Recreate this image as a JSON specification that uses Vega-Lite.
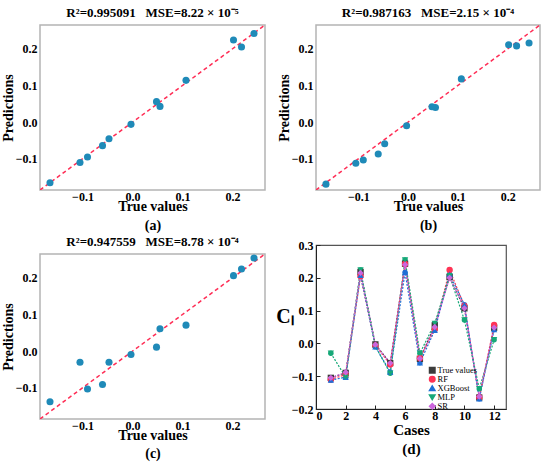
{
  "$schema": "https://vega.github.io/schema/vega-lite/v6.json",
  "padding": {"left": 0, "right": 2, "top": 6, "bottom": 2},
  "background": "white",
  "config": {
    "font": "Liberation Serif",
    "title": {"font": "Liberation Serif", "fontSize": 13, "fontWeight": "bold", "color": "black", "offset": 5},
    "axis": {
      "labelFont": "Liberation Serif", "labelFontSize": 12, "labelFontWeight": "bold", "labelColor": "black",
      "titleFont": "Liberation Serif", "titleFontSize": 14, "titleFontWeight": "bold", "titleColor": "black",
      "grid": false
    },
    "legend": {"labelFont": "Liberation Serif"}
  },
  "datasets": {
    "cases": [
      {"case": 1, "True values": -0.105, "RF": -0.110, "XGBoost": -0.112, "MLP": -0.030, "SR": -0.105},
      {"case": 2, "True values": -0.090, "RF": -0.095, "XGBoost": -0.103, "MLP": -0.103, "SR": -0.088},
      {"case": 3, "True values": 0.218, "RF": 0.205, "XGBoost": 0.208, "MLP": 0.224, "SR": 0.215},
      {"case": 4, "True values": -0.003, "RF": -0.006, "XGBoost": -0.010, "MLP": -0.009, "SR": -0.004},
      {"case": 5, "True values": -0.060, "RF": -0.064, "XGBoost": -0.087, "MLP": -0.091, "SR": -0.060},
      {"case": 6, "True values": 0.243, "RF": 0.242, "XGBoost": 0.216, "MLP": 0.254, "SR": 0.240},
      {"case": 7, "True values": -0.047, "RF": -0.045, "XGBoost": -0.059, "MLP": -0.030, "SR": -0.046},
      {"case": 8, "True values": 0.055, "RF": 0.043, "XGBoost": 0.040, "MLP": 0.061, "SR": 0.050},
      {"case": 9, "True values": 0.202, "RF": 0.224, "XGBoost": 0.211, "MLP": 0.206, "SR": 0.200},
      {"case": 10, "True values": 0.107, "RF": 0.114, "XGBoost": 0.118, "MLP": 0.071, "SR": 0.107},
      {"case": 11, "True values": -0.165, "RF": -0.165, "XGBoost": -0.169, "MLP": -0.138, "SR": -0.162},
      {"case": 12, "True values": 0.048, "RF": 0.056, "XGBoost": 0.042, "MLP": 0.011, "SR": 0.048}
    ],
    "diag": [{"v": -0.185}, {"v": 0.265}]
  },
  "hconcat": [
    {
      "vconcat": [
        {
          "width": 225, "height": 165,
          "title": "R²=0.995091\u00a0\u00a0\u00a0MSE=8.22 × 10⁻⁵",
          "view": {"stroke": "#b4b4b4", "strokeWidth": 1.5},
          "layer": [
            {
              "data": {"name": "diag"},
              "mark": {"type": "line", "color": "#ff2d55", "strokeDash": [4, 3], "strokeWidth": 1.5, "clip": true},
              "encoding": {
                "x": {"field": "v", "type": "quantitative", "scale": {"domain": [-0.185, 0.265], "nice": false},
                  "axis": {"title": ["True values", "(a)"], "titleLineHeight": 19, "titlePadding": -3, "labelPadding": 1, "domain": false, "ticks": false, "values": [-0.1, 0, 0.1, 0.2], "format": ".1f"}},
                "y": {"field": "v", "type": "quantitative", "scale": {"domain": [-0.185, 0.265], "nice": false},
                  "axis": {"title": "Predictions", "titlePadding": 0, "labelPadding": 3, "domain": false, "ticks": false, "values": [-0.1, 0, 0.1, 0.2], "format": ".1f"}}
              }
            },
            {
              "data": {"name": "cases"},
              "mark": {"type": "circle", "size": 50, "color": "#1f8ab8", "opacity": 1},
              "encoding": {
                "x": {"field": "True values", "type": "quantitative"},
                "y": {"field": "RF", "type": "quantitative"}
              }
            }
          ]
        },
        {
          "width": 225, "height": 165,
          "title": "R²=0.947559\u00a0\u00a0\u00a0MSE=8.78 × 10⁻⁴",
          "view": {"stroke": "#b4b4b4", "strokeWidth": 1.5},
          "layer": [
            {
              "data": {"name": "diag"},
              "mark": {"type": "line", "color": "#ff2d55", "strokeDash": [4, 3], "strokeWidth": 1.5, "clip": true},
              "encoding": {
                "x": {"field": "v", "type": "quantitative", "scale": {"domain": [-0.185, 0.265], "nice": false},
                  "axis": {"title": ["True values", "(c)"], "titleLineHeight": 18, "titlePadding": -3, "labelPadding": 1, "domain": false, "ticks": false, "values": [-0.1, 0, 0.1, 0.2], "format": ".1f"}},
                "y": {"field": "v", "type": "quantitative", "scale": {"domain": [-0.185, 0.265], "nice": false},
                  "axis": {"title": "Predictions", "titlePadding": 0, "labelPadding": 3, "domain": false, "ticks": false, "values": [-0.1, 0, 0.1, 0.2], "format": ".1f"}}
              }
            },
            {
              "data": {"name": "cases"},
              "mark": {"type": "circle", "size": 50, "color": "#1f8ab8", "opacity": 1},
              "encoding": {
                "x": {"field": "True values", "type": "quantitative"},
                "y": {"field": "MLP", "type": "quantitative"}
              }
            }
          ]
        }
      ],
      "bounds": "flush",
      "spacing": 64
    },
    {
      "vconcat": [
        {
          "width": 224, "height": 165,
          "title": "R²=0.987163\u00a0\u00a0\u00a0MSE=2.15 × 10⁻⁴",
          "view": {"stroke": "#b4b4b4", "strokeWidth": 1.5},
          "layer": [
            {
              "data": {"name": "diag"},
              "mark": {"type": "line", "color": "#ff2d55", "strokeDash": [4, 3], "strokeWidth": 1.5, "clip": true},
              "encoding": {
                "x": {"field": "v", "type": "quantitative", "scale": {"domain": [-0.185, 0.265], "nice": false},
                  "axis": {"title": ["True values", "(b)"], "titleLineHeight": 19, "titlePadding": -3, "labelPadding": 1, "domain": false, "ticks": false, "values": [-0.1, 0, 0.1, 0.2], "format": ".1f"}},
                "y": {"field": "v", "type": "quantitative", "scale": {"domain": [-0.185, 0.265], "nice": false},
                  "axis": {"title": "Predictions", "titlePadding": 0, "labelPadding": 3, "domain": false, "ticks": false, "values": [-0.1, 0, 0.1, 0.2], "format": ".1f"}}
              }
            },
            {
              "data": {"name": "cases"},
              "mark": {"type": "circle", "size": 50, "color": "#1f8ab8", "opacity": 1},
              "encoding": {
                "x": {"field": "True values", "type": "quantitative"},
                "y": {"field": "XGBoost", "type": "quantitative"}
              }
            }
          ]
        },
        {
          "width": 190, "height": 164,
          "data": {"name": "cases"},
          "transform": [
            {"fold": ["True values", "RF", "XGBoost", "MLP", "SR"], "as": ["model", "value"]}
          ],
          "view": {"stroke": "#555555", "strokeWidth": 1.2},
          "encoding": {
            "x": {"field": "case", "type": "quantitative", "scale": {"domain": [0, 12.8], "nice": false},
              "axis": {"title": ["Cases", "(d)"], "titleFontSize": 15, "titleLineHeight": 19, "titlePadding": 1, "labelPadding": 5, "values": [0, 2, 4, 6, 8, 10, 12], "domainColor": "#222", "tickColor": "#222", "tickSize": -4}},
            "y": {"field": "value", "type": "quantitative", "scale": {"domain": [-0.2, 0.3], "nice": false},
              "axis": {"title": "Cₗ", "titleFontSize": 20, "titleAngle": 0, "titleAlign": "right", "titleBaseline": "middle", "titlePadding": -2, "titleY": 71, "labelPadding": 7, "values": [-0.2, -0.1, 0, 0.1, 0.2, 0.3], "format": ".1f", "domainColor": "#222", "tickColor": "#222", "tickSize": -4}},
            "color": {"field": "model", "type": "nominal",
              "scale": {"domain": ["True values", "RF", "XGBoost", "MLP", "SR"], "range": ["#3c3c3c", "#ff3355", "#1f6fd6", "#16a878", "#cc66dd"]},
              "legend": {"title": null, "orient": "none", "legendX": 388, "legendY": 341, "labelFontSize": 8.5, "symbolSize": 30, "rowPadding": 0, "clipHeight": 8.5, "labelOffset": 1}},
            "shape": {"field": "model", "type": "nominal",
              "scale": {"domain": ["True values", "RF", "XGBoost", "MLP", "SR"], "range": ["square", "circle", "triangle-up", "triangle-down", "diamond"]},
              "legend": {"title": null, "orient": "none", "legendX": 388, "legendY": 341, "labelFontSize": 8.5, "symbolSize": 30, "rowPadding": 0, "clipHeight": 8.5, "labelOffset": 1}}
          },
          "layer": [
            {
              "mark": {"type": "line", "strokeDash": [2, 1.5], "strokeWidth": 1.2},
              "encoding": {"detail": {"field": "model"}, "order": {"field": "case", "type": "quantitative"}, "shape": {"value": null}}
            },
            {
              "mark": {"type": "point", "filled": true, "size": 40, "opacity": 1}
            }
          ]
        }
      ],
      "bounds": "flush",
      "spacing": 55
    }
  ],
  "bounds": "full",
  "spacing": 9
}
